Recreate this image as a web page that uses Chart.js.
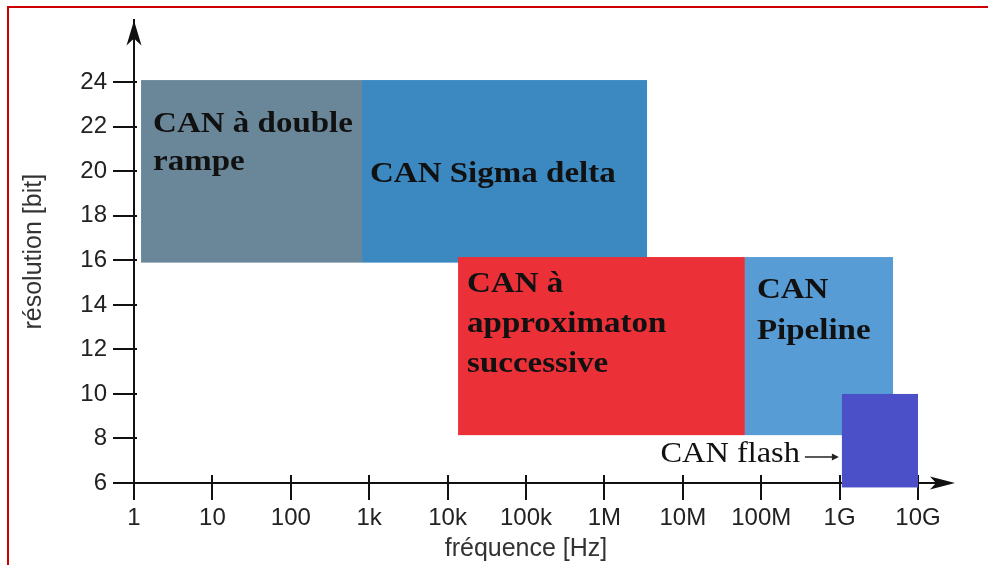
<!DOCTYPE html>
<html>
<head>
<meta charset="utf-8">
<script src="https://cdn.jsdelivr.net/npm/chart.js@4.4.1/dist/chart.umd.min.js"></script>
<style>
  html, body { margin: 0; padding: 0; background: #ffffff; }
  #wrap { width: 988px; height: 565px; position: relative; }
</style>
</head>
<body>
<div id="wrap"><canvas id="c" width="988" height="565"></canvas></div>
<script>
// ---- data ----
const freqTickValues = [1, 10, 100, 1e3, 1e4, 1e5, 1e6, 1e7, 1e8, 1e9, 1e10];
const freqTickLabels = ['1', '10', '100', '1k', '10k', '100k', '1M', '10M', '100M', '1G', '10G'];
const resTickValues = [6, 8, 10, 12, 14, 16, 18, 20, 22, 24];

const blockNames = ['CAN à double rampe', 'CAN Sigma delta', 'CAN à approximaton successive', 'CAN Pipeline', 'CAN flash'];
const blockFreqStart = [1.23, 810, 1.36e4, 6.2e7, 1.07e9];
const blockFreqEnd   = [810, 3.5e6, 6.2e7, 4.8e9, 1e10];
const blockResLow    = [15.9, 15.9, 8.15, 8.15, 5.8];
const blockResHigh   = [24.1, 24.1, 16.15, 16.15, 10];

// ---- styles ----
const blockColors = ['#6a8799', '#3b89c0', '#eb3038', '#589cd5', '#4b4fc8'];
const labelLines = [
  ['CAN à double', 'rampe'],
  ['CAN Sigma delta'],
  ['CAN à', 'approximaton', 'successive'],
  ['CAN', 'Pipeline'],
  ['CAN flash']
];
// offsets (px) from block left / top edge
const labelStyle = [
  { dx: 12, dy: 52, lh: 38 },
  { dx: 8, dy: 102, lh: 38 },
  { dx: 9, dy: 35, lh: 40 },
  { dx: 12, dy: 41, lh: 41 },
  { outside: true }
];

const AXIS = '#111111';

const blocksPlugin = {
  id: 'blocks',
  beforeDatasetsDraw(chart) {
    const ctx = chart.ctx;
    const xs = chart.scales.x, ys = chart.scales.y;
    const area = chart.chartArea;
    ctx.save();
    // inner parts of tick marks
    ctx.strokeStyle = AXIS;
    ctx.lineWidth = 2;
    freqTickValues.forEach(v => {
      const px = Math.round(xs.getPixelForValue(v));
      ctx.beginPath(); ctx.moveTo(px, area.bottom); ctx.lineTo(px, area.bottom - 8); ctx.stroke();
    });
    resTickValues.forEach(v => {
      const py = Math.round(ys.getPixelForValue(v));
      ctx.beginPath(); ctx.moveTo(area.left, py); ctx.lineTo(area.left + 3, py); ctx.stroke();
    });
    // x axis extension + arrows
    ctx.beginPath(); ctx.moveTo(area.right - 2, area.bottom); ctx.lineTo(area.right + 24, area.bottom); ctx.stroke();
    ctx.fillStyle = AXIS;
    const tx = area.right + 37, ty = area.bottom;
    ctx.beginPath();
    ctx.moveTo(tx, ty); ctx.lineTo(tx - 25, ty - 6.5); ctx.lineTo(tx - 19, ty); ctx.lineTo(tx - 25, ty + 6.5); ctx.closePath(); ctx.fill();
    const ax = area.left, ay = area.top;
    ctx.beginPath();
    ctx.moveTo(ax, ay); ctx.lineTo(ax - 7.5, ay + 25); ctx.lineTo(ax, ay + 18); ctx.lineTo(ax + 7.5, ay + 25); ctx.closePath(); ctx.fill();

    // blocks
    chart.data.datasets.forEach((ds, i) => {
      const p0 = ds.data[0], p1 = ds.data[1];
      const x0 = xs.getPixelForValue(p0.x), x1 = xs.getPixelForValue(p1.x);
      const y0 = ys.getPixelForValue(p0.y), y1 = ys.getPixelForValue(p1.y);
      ctx.fillStyle = ds.backgroundColor;
      ctx.fillRect(Math.min(x0, x1), Math.min(y0, y1), Math.abs(x1 - x0), Math.abs(y1 - y0));
    });
    // labels
    chart.data.datasets.forEach((ds, i) => {
      const p0 = ds.data[0], p1 = ds.data[1];
      const left = xs.getPixelForValue(p0.x);
      const top = ys.getPixelForValue(p1.y);
      const st = labelStyle[i];
      ctx.fillStyle = '#111';
      ctx.textBaseline = 'alphabetic';
      if (st.outside) {
        const base = area.bottom - 21;
        ctx.save();
        ctx.font = '30px "Liberation Serif", "Times New Roman", serif';
        ctx.textAlign = 'right';
        ctx.translate(left - 42, base);
        ctx.scale(1.08, 1);
        ctx.fillText(labelLines[i][0], 0, 0);
        ctx.restore();
        // small arrow
        ctx.strokeStyle = '#222'; ctx.lineWidth = 1.5;
        const ay2 = base - 5;
        ctx.beginPath(); ctx.moveTo(left - 37, ay2); ctx.lineTo(left - 8, ay2); ctx.stroke();
        ctx.fillStyle = '#222';
        ctx.beginPath(); ctx.moveTo(left - 3, ay2); ctx.lineTo(left - 10, ay2 - 3.5); ctx.lineTo(left - 10, ay2 + 3.5); ctx.closePath(); ctx.fill();
      } else {
        labelLines[i].forEach((line, k) => {
          ctx.save();
          ctx.font = 'bold 30px "Liberation Serif", "Times New Roman", serif';
          ctx.textAlign = 'left';
          ctx.translate(left + st.dx, top + st.dy + k * st.lh);
          ctx.scale(1.1, 1);
          ctx.fillText(line, 0, 0);
          ctx.restore();
        });
      }
    });
    ctx.restore();
  },
  afterDraw(chart) {
    const ctx = chart.ctx;
    ctx.save();
    ctx.fillStyle = '#cc0000';
    ctx.fillRect(7, 6, 981, 2);
    ctx.fillRect(7, 6, 2, 559);
    ctx.restore();
  }
};

const datasets = blockNames.map((name, i) => ({
  label: name,
  data: [{ x: blockFreqStart[i], y: blockResLow[i] }, { x: blockFreqEnd[i], y: blockResHigh[i] }],
  backgroundColor: blockColors[i],
  pointRadius: 0,
  pointHoverRadius: 0,
  showLine: false
}));

new Chart(document.getElementById('c'), {
  type: 'scatter',
  data: { datasets },
  options: {
    responsive: false,
    animation: false,
    events: [],
    layout: { padding: { top: 20, right: 70, left: 0, bottom: 0 } },
    plugins: { legend: { display: false }, tooltip: { enabled: false } },
    scales: {
      x: {
        type: 'logarithmic',
        min: 1,
        max: 1e10,
        afterBuildTicks(scale) { scale.ticks = freqTickValues.map(v => ({ value: v })); },
        afterFit(scale) { scale.height = 82; },
        ticks: {
          autoSkip: false,
          maxRotation: 0,
          padding: 4,
          color: '#222',
          font: { family: '"Liberation Sans", Arial, sans-serif', size: 24 },
          callback(value) {
            const idx = freqTickValues.indexOf(value);
            return idx >= 0 ? freqTickLabels[idx] : '';
          }
        },
        grid: { drawOnChartArea: false, drawTicks: true, tickLength: 17, color: AXIS, lineWidth: 2 },
        border: { display: true, color: AXIS, width: 2 },
        title: {
          display: true,
          text: 'fréquence [Hz]',
          color: '#333',
          font: { family: '"Liberation Sans", Arial, sans-serif', size: 25 },
          padding: { top: 0, bottom: 1 }
        }
      },
      y: {
        type: 'linear',
        min: 6,
        max: 26.78,
        afterBuildTicks(scale) { scale.ticks = resTickValues.map(v => ({ value: v })); },
        afterFit(scale) { scale.width = 134; },
        ticks: {
          autoSkip: false,
          padding: 6,
          color: '#222',
          font: { family: '"Liberation Sans", Arial, sans-serif', size: 24 }
        },
        grid: { drawOnChartArea: false, drawTicks: true, tickLength: 21, color: AXIS, lineWidth: 2 },
        border: { display: true, color: AXIS, width: 2 },
        title: {
          display: true,
          text: 'résolution [bit]',
          color: '#333',
          font: { family: '"Liberation Sans", Arial, sans-serif', size: 25 },
          padding: { top: 19, bottom: 0 }
        }
      }
    }
  },
  plugins: [blocksPlugin]
});
</script>
</body>
</html>
